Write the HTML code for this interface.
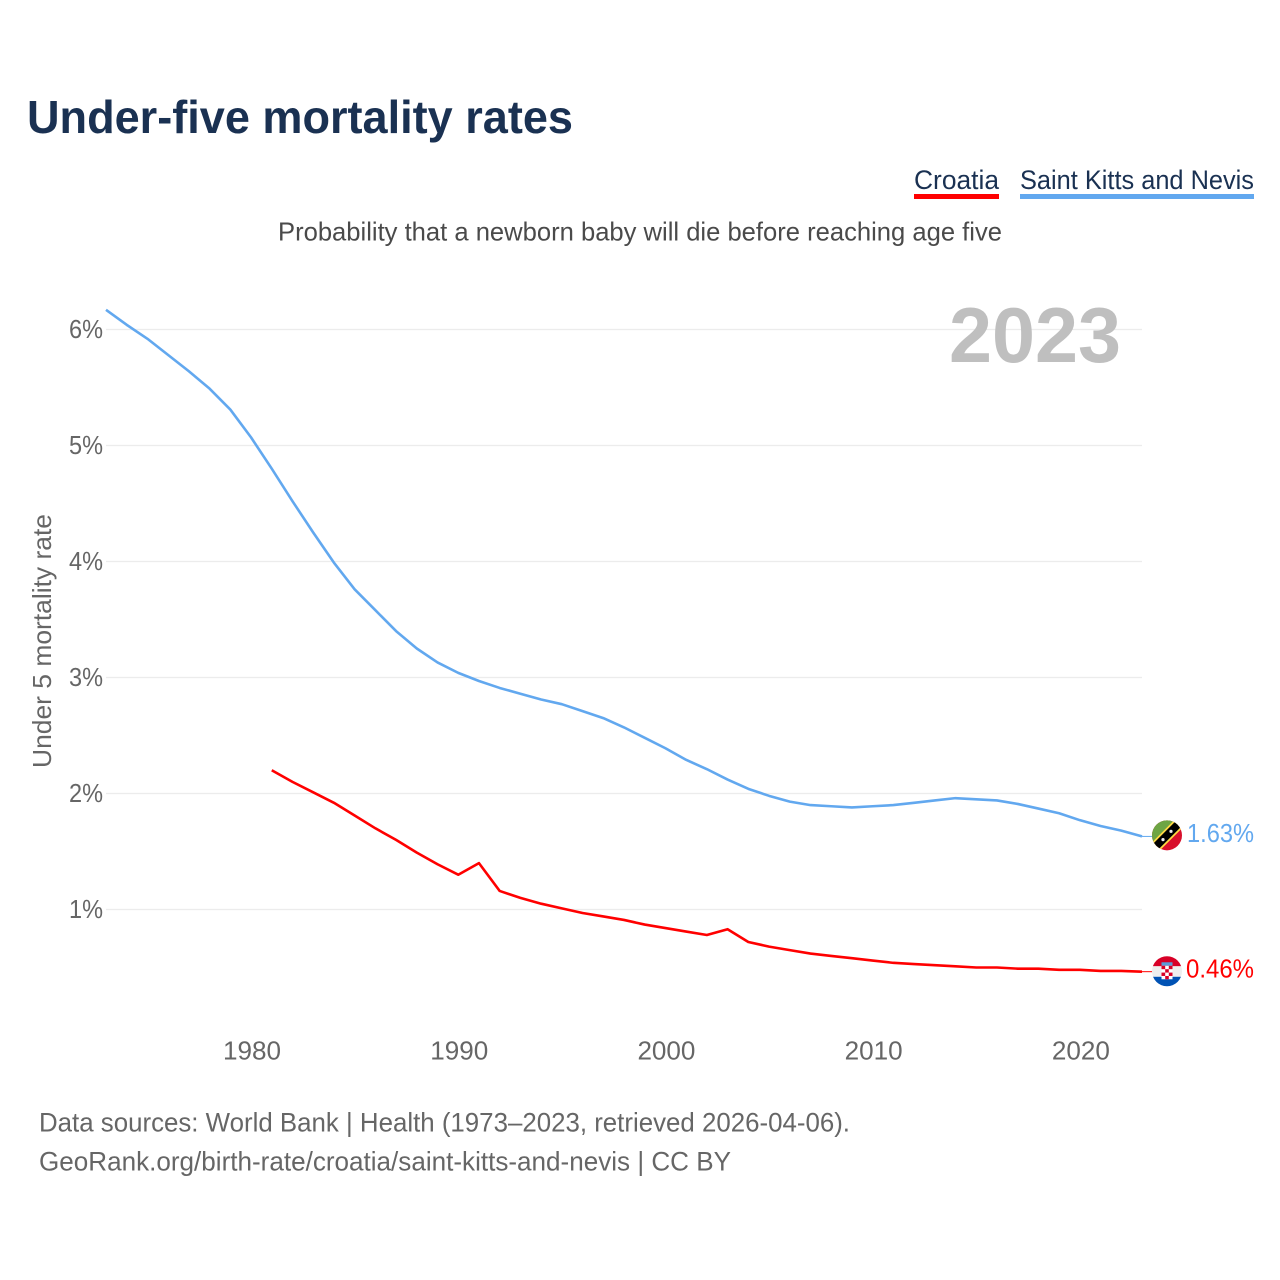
<!DOCTYPE html>
<html lang="en">
<head>
<meta charset="utf-8">
<title>Under-five mortality rates</title>
<style>
html,body{margin:0;padding:0;background:#fff;width:1280px;height:1280px;overflow:hidden}
svg{display:block}
text{font-family:"Liberation Sans",sans-serif}
</style>
</head>
<body>
<svg id="chart" xmlns="http://www.w3.org/2000/svg" width="1280" height="1280" viewBox="0 0 1280 1280">
  <defs>
    <clipPath id="flag-clip"><circle cx="0" cy="0" r="15"/></clipPath>
  </defs>
  <rect width="1280" height="1280" fill="#fff"/>
  <text x="27" y="133" font-size="46" font-weight="700" fill="#1a3152" textLength="546" lengthAdjust="spacingAndGlyphs">Under-five mortality rates</text>

  <g>
    <text x="914" y="189" font-size="27" fill="#1a3152" textLength="85" lengthAdjust="spacingAndGlyphs">Croatia</text>
    <rect x="914" y="194" width="85" height="5" fill="#ff0000"/>
  </g>
  <g>
    <text x="1020" y="189" font-size="27" fill="#1a3152" textLength="234" lengthAdjust="spacingAndGlyphs">Saint Kitts and Nevis</text>
    <rect x="1020" y="194" width="234" height="5" fill="#62a8ef"/>
  </g>

  <text x="278" y="240.5" font-size="26" fill="#4a4a4a" textLength="724" lengthAdjust="spacingAndGlyphs">Probability that a newborn baby will die before reaching age five</text>

  <g id="grid"></g>
  <g id="y-ticks"></g>
  <g id="x-ticks"></g>

  <text x="949" y="362" font-size="78" font-weight="700" fill="#bfbfbf" textLength="172" lengthAdjust="spacingAndGlyphs">2023</text>

  <text transform="translate(51 768) rotate(-90)" x="0" y="0" font-size="26" fill="#666" textLength="254" lengthAdjust="spacingAndGlyphs">Under 5 mortality rate</text>

  <g id="series"></g>

  <g id="flag-kn">
    <g clip-path="url(#flag-clip)">
      <rect x="-16" y="-16" width="32" height="32" fill="#d8102c"/>
      <polygon points="-16,-16 16,-16 -16,16" fill="#6da544"/>
      <polygon points="-16,8 8,-16 16,-16 16,-8 -8,16 -16,16" fill="#ffda44"/>
      <polygon points="-16,10.5 10.5,-16 16,-16 16,-10.5 -10.5,16 -16,16" fill="#000"/>
      <circle cx="-4" cy="4.3" r="1.6" fill="#eee"/>
      <circle cx="4" cy="-4" r="1.6" fill="#eee"/>
    </g>
  </g>
  <g id="flag-hr">
    <g clip-path="url(#flag-clip)">
      <rect x="-16" y="-16" width="32" height="11" fill="#d80027"/>
      <rect x="-16" y="-5" width="32" height="10.5" fill="#eeeeee"/>
      <rect x="-16" y="5.5" width="32" height="11" fill="#0052b4"/>
      <rect x="-5.5" y="-9" width="11" height="3.5" fill="#5a9bd8"/>
      <rect x="-5.5" y="-5.5" width="11" height="13.5" fill="#fff"/>
      <rect x="-5.5" y="-5.5" width="3.7" height="3.4" fill="#d80027"/>
      <rect x="1.8" y="-5.5" width="3.7" height="3.4" fill="#d80027"/>
      <rect x="-1.8" y="-2.1" width="3.6" height="3.4" fill="#d80027"/>
      <rect x="-5.5" y="1.3" width="3.7" height="3.4" fill="#d80027"/>
      <rect x="1.8" y="1.3" width="3.7" height="3.4" fill="#d80027"/>
      <rect x="-1.8" y="4.7" width="3.6" height="3.3" fill="#d80027"/>
    </g>
  </g>

  <text id="label-kn" x="1187" font-size="26" fill="#62a8ef" textLength="67" lengthAdjust="spacingAndGlyphs"></text>
  <text id="label-hr" x="1186" font-size="26" fill="#ff0000" textLength="68" lengthAdjust="spacingAndGlyphs"></text>

  <text x="39" y="1131.5" font-size="27" fill="#666" textLength="811" lengthAdjust="spacingAndGlyphs">Data sources: World Bank | Health (1973–2023, retrieved 2026-04-06).</text>
  <text x="39" y="1170.5" font-size="27" fill="#666" textLength="692" lengthAdjust="spacingAndGlyphs">GeoRank.org/birth-rate/croatia/saint-kitts-and-nevis | CC BY</text>
</svg>
<script>
var yTickValues = [1, 2, 3, 4, 5, 6];
var xTickYears = [1980, 1990, 2000, 2010, 2020];
var kittsStartYear = 1973;
var kittsValues = [6.17, 6.04, 5.92, 5.78, 5.64, 5.49, 5.31, 5.07, 4.80, 4.52, 4.25, 3.99, 3.76, 3.58, 3.40, 3.25, 3.13, 3.04, 2.97, 2.91, 2.86, 2.81, 2.77, 2.71, 2.65, 2.57, 2.48, 2.39, 2.29, 2.21, 2.12, 2.04, 1.98, 1.93, 1.90, 1.89, 1.88, 1.89, 1.90, 1.92, 1.94, 1.96, 1.95, 1.94, 1.91, 1.87, 1.83, 1.77, 1.72, 1.68, 1.63];
var croatiaStartYear = 1981;
var croatiaValues = [2.20, 2.10, 2.01, 1.92, 1.81, 1.70, 1.60, 1.49, 1.39, 1.30, 1.40, 1.16, 1.10, 1.05, 1.01, 0.97, 0.94, 0.91, 0.87, 0.84, 0.81, 0.78, 0.83, 0.72, 0.68, 0.65, 0.62, 0.60, 0.58, 0.56, 0.54, 0.53, 0.52, 0.51, 0.50, 0.50, 0.49, 0.49, 0.48, 0.48, 0.47, 0.47, 0.464];

var NS = 'http://www.w3.org/2000/svg';
function xScale(year) { return 106 + (year - 1973) * 20.72; }
function yScale(value) { return 1025.5 - value * 116; }
function make(tag, attrs, parent) {
  var el = document.createElementNS(NS, tag);
  for (var k in attrs) el.setAttribute(k, attrs[k]);
  parent.appendChild(el);
  return el;
}

var grid = document.getElementById('grid');
var yTicks = document.getElementById('y-ticks');
yTickValues.forEach(function (v) {
  var line = make('line', {x1: 106, x2: 1142, y1: yScale(v), y2: yScale(v), stroke: '#ececec', 'stroke-width': 1.2}, grid);
  
  
  var label = make('text', {x: 69, y: yScale(v) + 8.5, 'font-size': 26, fill: '#666', textLength: 34, lengthAdjust: 'spacingAndGlyphs'}, yTicks);
  
  
  label.textContent = v + '%';
});

var xTicks = document.getElementById('x-ticks');
xTickYears.forEach(function (yr) {
  var label = make('text', {x: xScale(yr) + 1 - 29, y: 1059.5, 'font-size': 26, fill: '#666', textLength: 58, lengthAdjust: 'spacingAndGlyphs'}, xTicks);
  
  
  label.textContent = String(yr);
});

function pointsFor(values, startYear) {
  return values.map(function (v, i) {
    return xScale(startYear + i).toFixed(2) + ',' + yScale(v).toFixed(2);
  }).join(' ');
}
var series = document.getElementById('series');

var kittsLine = make('polyline', {points: pointsFor(kittsValues, kittsStartYear), fill: 'none', stroke: '#62a8ef', 'stroke-width': 2.6, 'stroke-linejoin': 'round'}, series);



var croatiaLine = make('polyline', {points: pointsFor(croatiaValues, croatiaStartYear), fill: 'none', stroke: '#ff0000', 'stroke-width': 2.6, 'stroke-linejoin': 'round'}, series);



var kittsLast = kittsValues[kittsValues.length - 1];
var croatiaLast = croatiaValues[croatiaValues.length - 1];

var kittsStub = make('line', {x1: 1142, x2: 1152, y1: yScale(kittsLast), y2: yScale(kittsLast), stroke: '#62a8ef', 'stroke-width': 1}, series);



var croatiaStub = make('line', {x1: 1142, x2: 1152, y1: yScale(croatiaLast), y2: yScale(croatiaLast), stroke: '#ff0000', 'stroke-width': 1}, series);



document.getElementById('flag-kn').setAttribute('transform', 'translate(1167 ' + (yScale(kittsLast) - 1.1) + ')');
document.getElementById('flag-hr').setAttribute('transform', 'translate(1167 ' + (yScale(croatiaLast) - 0.4) + ')');

var labelKn = document.getElementById('label-kn');
labelKn.setAttribute('y', yScale(kittsLast) + 5.5);
labelKn.textContent = kittsLast.toFixed(2) + '%';
var labelHr = document.getElementById('label-hr');
labelHr.setAttribute('y', yScale(croatiaLast) + 6);
labelHr.textContent = croatiaLast.toFixed(2) + '%';
</script>
</body>
</html>
